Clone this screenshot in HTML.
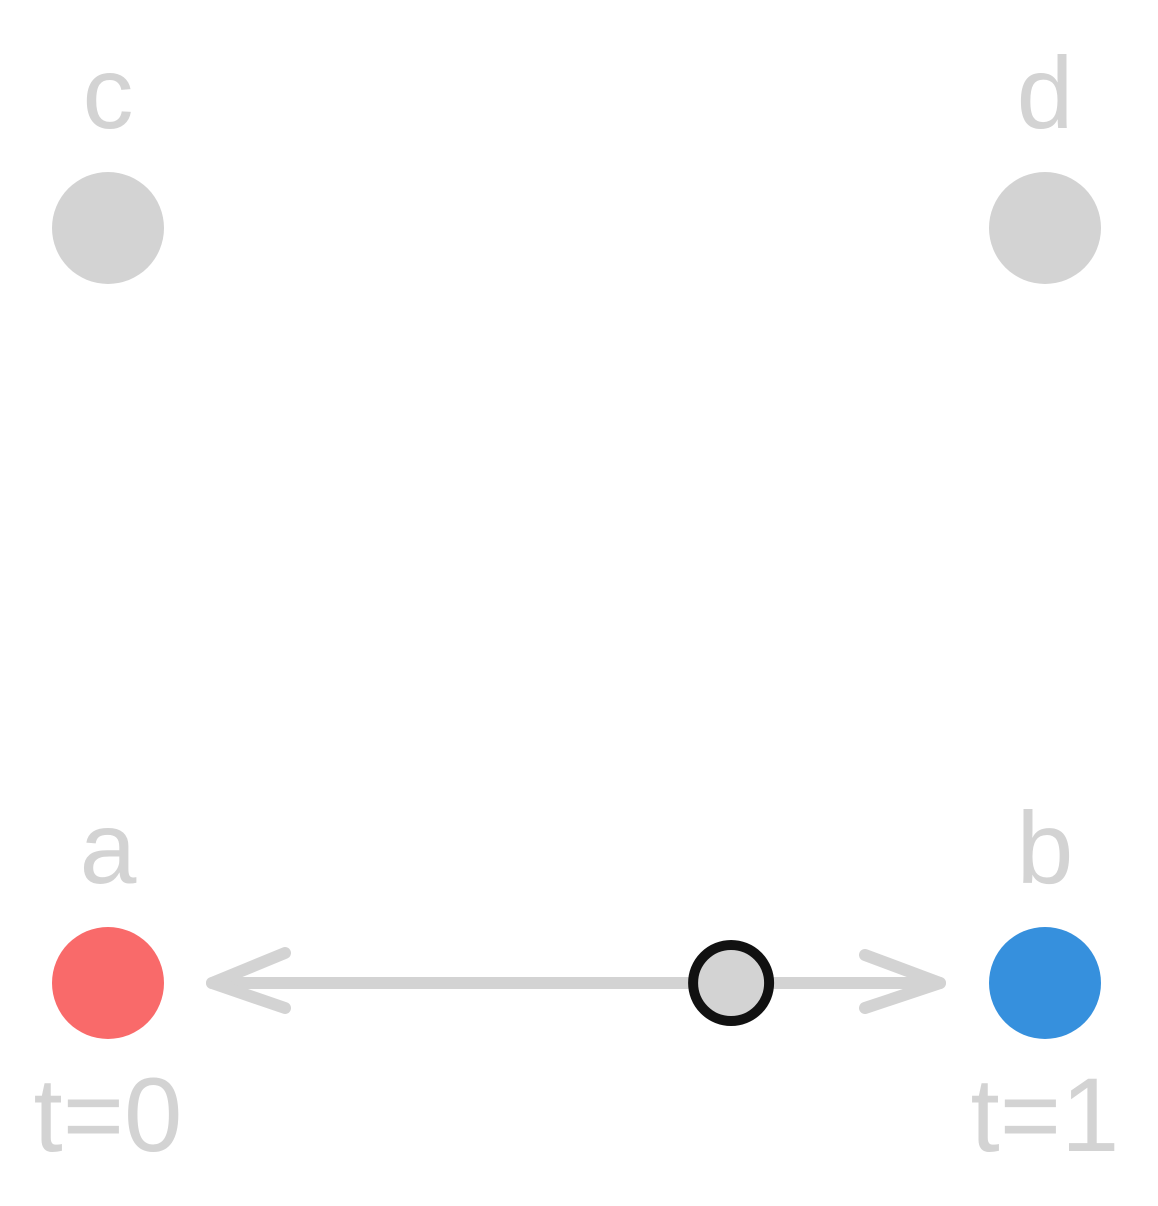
<!DOCTYPE html>
<html>
<head>
<meta charset="utf-8">
<style>
  html,body{margin:0;padding:0;background:#fff;}
  svg{display:block;}
  text{font-family:"Liberation Sans",sans-serif;fill:#d3d3d3;}
</style>
</head>
<body>
<svg id="chart" width="1158" height="1206" viewBox="0 0 1158 1206"></svg>
<script>
const pointNames = ["a","b","c","d"];
const pointX = [0,1,0,1];
const pointY = [0,0,1,1];
const pointColors = ["#f96a6a","#3690dd","#d3d3d3","#d3d3d3"];
const tValue = [0.665];
const tLabels = ["t=0","t=1"];

const NS = "http://www.w3.org/2000/svg";
const svg = document.getElementById("chart");
const sx = v => 108 + v * 937;
const sy = v => 983 - v * 755;

function mk(tag, attrs){
  const e = document.createElementNS(NS, tag);
  for (const k in attrs) e.setAttribute(k, attrs[k]);
  svg.appendChild(e);
  return e;
}

const line = mk("line",{x1:sx(0)+104,y1:sy(0),x2:sx(1)-105,y2:sy(0),stroke:"#d3d3d3","stroke-width":12,"stroke-linecap":"round"});


const hl = mk("polyline",{points:`${sx(0)+177},953 ${sx(0)+104},983 ${sx(0)+177},1008`,fill:"none",stroke:"#d3d3d3","stroke-width":12,"stroke-linecap":"round","stroke-linejoin":"round"});


const hr = mk("polyline",{points:`${sx(1)-180},955 ${sx(1)-105},983 ${sx(1)-180},1008`,fill:"none",stroke:"#d3d3d3","stroke-width":12,"stroke-linecap":"round","stroke-linejoin":"round"});



pointNames.forEach((n,i)=>{
  const c = mk("circle",{cx:sx(pointX[i]),cy:sy(pointY[i]),r:56,fill:pointColors[i]});
  
  
  const t = mk("text",{x:sx(pointX[i]),y:sy(pointY[i])-100,"text-anchor":"middle","font-size":102});
  t.textContent = n;
  
  
});

tLabels.forEach((s,i)=>{
  const t = mk("text",{x:sx(i),y:1151,"text-anchor":"middle","font-size":105});
  t.textContent = s;
  
  
});

const m = mk("circle",{cx:sx(tValue[0]),cy:sy(0),r:38,fill:"#d3d3d3",stroke:"#111","stroke-width":10});


</script>
</body>
</html>
